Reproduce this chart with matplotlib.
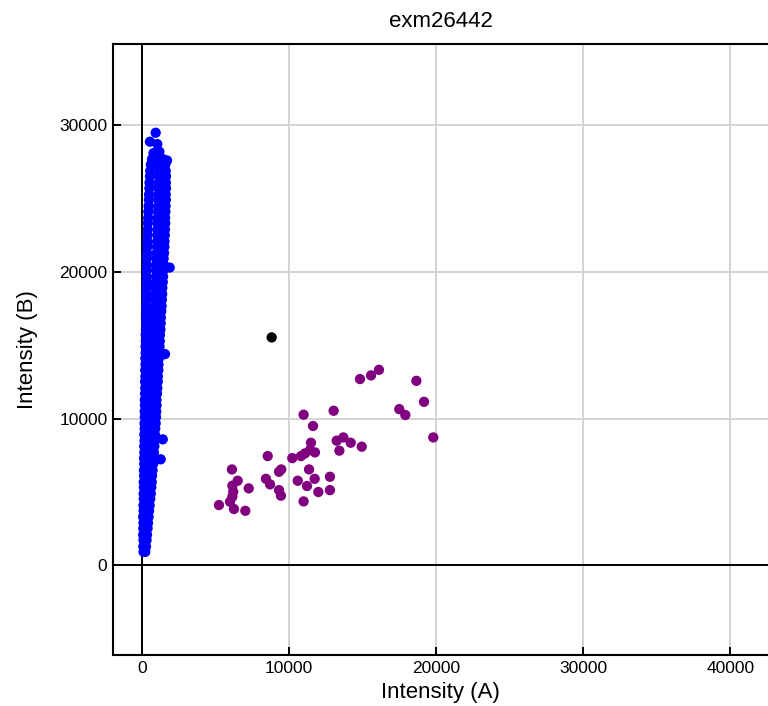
import matplotlib
matplotlib.use("Agg")
import matplotlib.pyplot as plt
import numpy as np

plt.rcParams['font.family'] = ['Liberation Sans', 'DejaVu Sans']

title = "exm26442"
xlabel = "Intensity (A)"
ylabel = "Intensity (B)"
xticks = [0, 10000, 20000, 30000, 40000]
yticks = [0, 10000, 20000, 30000]

# Blue cluster rows: y value, left / middle / right x
blue_rows_y = [920, 1280, 1730, 2080, 2520, 2890, 3310, 3720, 4080, 4530, 4890, 5320, 5680, 6110,
               6480, 6920, 7310, 7690, 8120, 8480, 8910, 9320, 9680, 10110, 10490, 10920, 11280,
               11710, 12090, 12520, 12880, 13310, 13690, 14120, 14480, 14910, 15290, 15720, 16080,
               16510, 16890, 17320, 17680, 18110, 18490, 18920, 19310, 19690, 20120, 20480, 20910,
               21290, 21720, 22080, 22510, 22890, 23320, 23680, 24110, 24490, 24920, 25280, 25710,
               26090, 26520, 26880, 27310, 27690]
blue_xl = [130, 110, 120, 100, 110, 120, 100, 130, 120, 140, 130, 150, 140, 160,
           150, 170, 160, 180, 170, 190, 180, 200, 190, 210, 200, 220, 210,
           230, 240, 230, 250, 240, 260, 250, 270, 260, 280, 270, 290,
           300, 290, 310, 300, 320, 310, 330, 340, 330, 350, 360, 350,
           370, 380, 390, 400, 410, 420, 440, 450, 470, 490, 500, 520,
           530, 560, 580, 620, 700]
blue_xm = [180, 200, 220, 240, 260, 280, 300, 320, 340, 370, 390, 410, 430, 450,
           470, 480, 500, 520, 540, 560, 570, 590, 600, 620, 640, 650, 670,
           680, 700, 710, 720, 740, 750, 770, 780, 800, 810, 820, 840,
           850, 870, 880, 890, 910, 920, 940, 950, 970, 980, 990, 1000,
           1020, 1030, 1050, 1060, 1070, 1080, 1090, 1100, 1110, 1130, 1140, 1150,
           1160, 1170, 1180, 1170, 1150]
blue_xr = [240, 290, 330, 360, 400, 430, 470, 500, 540, 580, 620, 650, 680, 700,
           740, 780, 800, 830, 860, 880, 900, 920, 950, 970, 990, 1010, 1000,
           1040, 1060, 1090, 1100, 1130, 1140, 1170, 1190, 1210, 1230, 1240, 1270,
           1290, 1300, 1330, 1350, 1370, 1390, 1400, 1430, 1450, 1480, 1500, 1490,
           1520, 1540, 1550, 1570, 1580, 1600, 1590, 1610, 1620, 1640, 1630, 1650,
           1640, 1650, 1630, 1600, 1450]
blue_extra_x = [950, 560, 1060, 800, 1200, 1290, 1430, 1580, 1900, 1720, 340]
blue_extra_y = [29490, 28880, 28720, 28100, 28200, 7230, 8590, 14400, 20300, 27600, 21040]

purple_x = [14830, 15580, 16120, 18660, 19180, 17500, 17910, 19810, 11000, 13040, 11640, 13250,
            13700, 14200, 14950, 13430, 11500, 11770, 11430, 11090, 10820, 10230, 8560, 6130,
            6520, 6160, 6220, 6160, 6000, 5250, 6270, 7040, 7270, 8440, 8720, 9330, 9460, 9330,
            9480, 10600, 11370, 11750, 11230, 12000, 12790, 12790, 11000]
purple_y = [12700, 12950, 13330, 12580, 11150, 10650, 10250, 8720, 10270, 10540, 9500, 8500,
            8720, 8360, 8090, 7820, 8360, 7700, 7860, 7630, 7450, 7310, 7450, 6540,
            5770, 5430, 5020, 4680, 4340, 4110, 3840, 3720, 5250, 5900, 5520, 5130, 4750, 6380,
            6540, 5770, 6540, 5900, 5410, 5000, 6040, 5130, 4360]

black_x = [8830]
black_y = [15540]

fig = plt.figure(figsize=(7.68, 7.06), dpi=100)
ax = fig.add_axes([113/768, 51/706, 655/768, 611/706])

ax.set_xlim(-1950, 42550)
ax.set_ylim(-6110, 35540)
ax.set_xticks(xticks)
ax.set_yticks(yticks)
ax.grid(True, color='#d3d3d3', linewidth=1.4, zorder=0)
ax.set_axisbelow(True)
ax.axhline(0, color='black', linewidth=1.4, zorder=1)
ax.axvline(0, color='black', linewidth=1.4, zorder=1)

bx = np.concatenate([blue_xl, blue_xm, blue_xr, blue_extra_x])
by = np.concatenate([blue_rows_y, blue_rows_y, blue_rows_y, blue_extra_y])
ax.scatter(bx, by, s=55, color='#0000FF', edgecolors='none', zorder=3)
ax.scatter(purple_x, purple_y, s=55, color='#800080', edgecolors='none', zorder=3)
ax.scatter(black_x, black_y, s=55, color='black', edgecolors='none', zorder=3)

for side in ['left', 'top', 'bottom']:
    ax.spines[side].set_linewidth(1.5)
    ax.spines[side].set_color('black')
ax.spines['right'].set_visible(False)

ax.tick_params(axis='both', direction='in', length=6, width=1.4, labelsize=12.5)
ax.tick_params(axis='x', pad=4.5)
ax.tick_params(axis='y', pad=4)

ax.set_title(title, fontsize=16, pad=12)
ax.set_xlabel(xlabel, fontsize=16, labelpad=4)
ax.set_ylabel(ylabel, fontsize=16, labelpad=15)

fig.savefig("out.png", dpi=100)
